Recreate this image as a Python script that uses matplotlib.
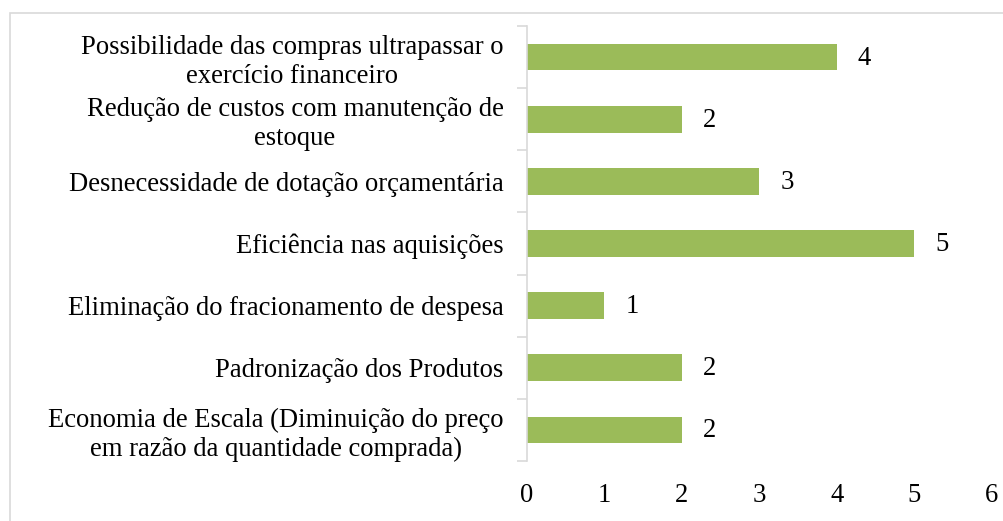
import matplotlib
matplotlib.use("Agg")
import matplotlib.pyplot as plt
from matplotlib.patches import Rectangle

categories = [
    "Economia de Escala (Diminuição do preço\nem razão da quantidade comprada)",
    "Padronização dos Produtos",
    "Eliminação do fracionamento de despesa",
    "Eficiência nas aquisições",
    "Desnecessidade de dotação orçamentária",
    "Redução de custos com manutenção de\nestoque",
    "Possibilidade das compras ultrapassar o\nexercício financeiro",
]
values = [2, 2, 1, 5, 3, 2, 4]
xticks = [0, 1, 2, 3, 4, 5, 6]

plt.rcParams['font.family'] = ['Liberation Serif', 'DejaVu Serif']
FS = 19.2
W, H = 1004, 521
fig = plt.figure(figsize=(W / 100, H / 100), dpi=100)
ax = fig.add_axes([527 / W, 1 - 461 / H, (992 - 527) / W, (461 - 26) / H])

ys = list(range(len(categories)))
bars = ax.barh(ys, values, height=0.43, color="#9BBB59")
for y, v in zip(ys, values):
    ax.annotate(str(v), (v, y), xytext=(21, -1), textcoords="offset pixels",
                ha="left", va="center", fontsize=FS, color="black")

ax.set_xlim(0, 6)
ax.set_ylim(-0.5, len(categories) - 0.5)
ax.set_xticks(xticks)
ax.set_xticklabels([str(t) for t in xticks], fontsize=FS)
ax.tick_params(axis="x", length=0, pad=16)
ax.set_yticks(ys)
ax.set_yticklabels(categories, fontsize=FS, linespacing=1.22,
                   multialignment="center")
ax.tick_params(axis="y", which="major", length=0, pad=17)
ax.set_yticks([i - 0.5 for i in range(len(categories) + 1)], minor=True)
ax.tick_params(axis="y", which="minor", length=7, color="#D9D9D9", width=1.2)

for s in ["top", "right", "bottom"]:
    ax.spines[s].set_visible(False)
ax.spines["left"].set_color("#D9D9D9")
ax.spines["left"].set_linewidth(1.2)

fig.patches.append(Rectangle((10 / W, -0.1), 1.2, (1 - 13 / H) + 0.1,
                             transform=fig.transFigure, fill=False,
                             edgecolor="#D9D9D9", linewidth=1.2))

fig.savefig("out.png", dpi=100)
